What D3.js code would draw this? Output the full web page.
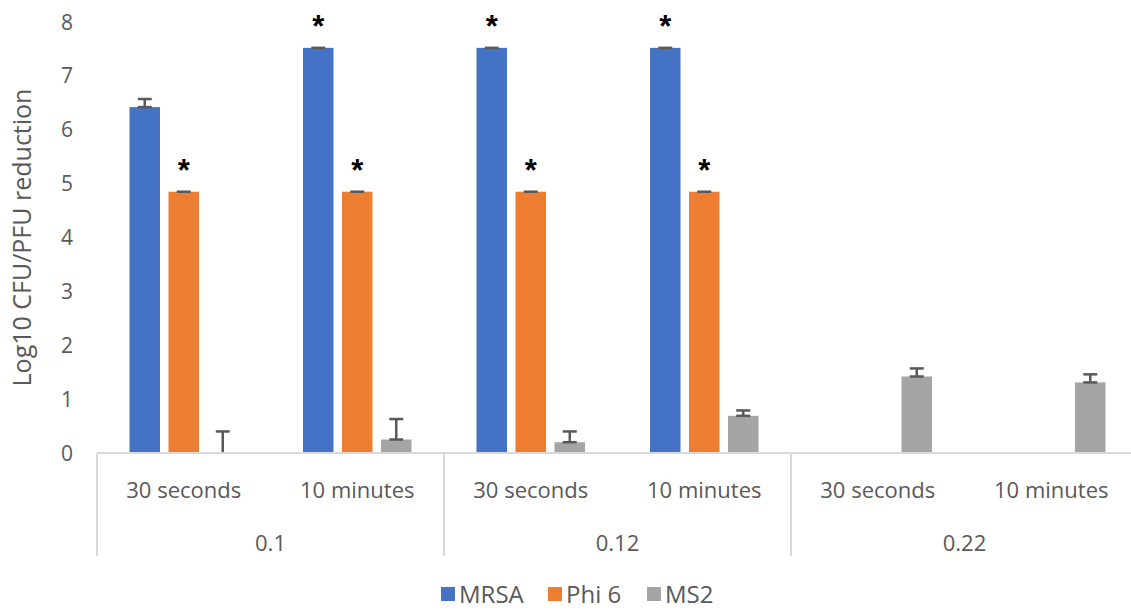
<!DOCTYPE html>
<html>
<head>
<meta charset="utf-8">
<script src="https://cdn.jsdelivr.net/npm/d3@7"></script>
<style>
  body { margin: 0; background: #fff; }
  text { font-family: "Open Sans", "Liberation Sans", sans-serif; fill: #595959; }
</style>
</head>
<body>
<div id="chart"></div>
<script>
// Concentration groups and exposure times
let groups = ["0.1", "0.12", "0.22"];
let times = ["30 seconds", "10 minutes"];
let seriesNames = ["MRSA", "Phi 6", "MS2"];
let seriesColors = ["#4472C4", "#ED7D31", "#A5A5A5"];
let yTicks = [0, 1, 2, 3, 4, 5, 6, 7, 8];

// Values per category (0.1/30s, 0.1/10m, 0.12/30s, 0.12/10m, 0.22/30s, 0.22/10m)
let mrsa = [6.42, 7.52, 7.52, 7.52, null, null];
let phi6 = [4.85, 4.85, 4.85, 4.85, null, null];
let ms2 = [0, 0.25, 0.2, 0.69, 1.42, 1.31];

// Upper error bars
let mrsaErr = [0.15, 0, 0, 0, null, null];
let phi6Err = [0, 0, 0, 0, null, null];
let ms2Err = [0.4, 0.38, 0.2, 0.1, 0.15, 0.15];

// Significance asterisks
let mrsaSig = [false, true, true, true, false, false];
let phi6Sig = [true, true, true, true, false, false];
let ms2Sig = [false, false, false, false, false, false];

let svgWidth = 1131;
let svgHeight = 610;

let margin = { top: 22, right: 0, bottom: 157, left: 97 };
let height = svgHeight - margin.top - margin.bottom;

let svg = d3.select("#chart")
    .append("svg")
    .attr("width", svgWidth)
    .attr("height", svgHeight);

// Build category list
let categories = [];
groups.forEach(g => times.forEach(t => categories.push(g + "|" + t)));

let values = [mrsa, phi6, ms2];
let errors = [mrsaErr, phi6Err, ms2Err];
let sigs = [mrsaSig, phi6Sig, ms2Sig];

let x0 = d3.scaleBand()
    .domain(categories)
    .range([margin.left, margin.left + 173.5 * categories.length]);

let x1 = d3.scaleBand()
    .domain(seriesNames)
    .range([0, x0.bandwidth()])
    .paddingInner(0.218)
    .paddingOuter(0.833);

let y = d3.scaleLinear()
    .domain([0, 8])
    .range([margin.top + height, margin.top]);

// Y tick labels
svg.append("g")
    .selectAll("text")
    .data(yTicks)
    .join("text")
    .attr("x", 73)
    .attr("y", d => y(d))
    .attr("dy", "0.36em")
    .attr("text-anchor", "end")
    .style("font-size", "21px")
    .text(d => d);

// Y axis title
svg.append("text")
    .attr("transform", `translate(31, ${y(4)}) rotate(-90)`)
    .attr("text-anchor", "middle")
    .style("font-size", "25px")
    .text("Log10 CFU/PFU reduction");

// Bars
let barGroup = svg.append("g");
seriesNames.forEach((s, si) => {
    let data = categories.map((c, i) => ({ c: c, v: values[si][i], e: errors[si][i], sig: sigs[si][i] }))
        .filter(d => d.v !== null);

    barGroup.selectAll(".bar" + si)
        .data(data)
        .join("rect")
        .attr("x", d => x0(d.c) + x1(s))
        .attr("y", d => y(d.v))
        .attr("width", x1.bandwidth())
        .attr("height", d => y(0) - y(d.v))
        .attr("fill", seriesColors[si]);

    // Error bars (plus direction)
    let eb = barGroup.selectAll(".err" + si)
        .data(data)
        .join("g")
        .attr("transform", d => `translate(${x0(d.c) + x1(s) + x1.bandwidth() / 2}, 0)`);
    eb.append("line")
        .attr("y1", d => y(d.v))
        .attr("y2", d => y(d.v + d.e))
        .attr("stroke", "#595959")
        .attr("stroke-width", 2.5);
    eb.append("line")
        .attr("x1", -7).attr("x2", 7)
        .attr("y1", d => y(d.v + d.e))
        .attr("y2", d => y(d.v + d.e))
        .attr("stroke", "#595959")
        .attr("stroke-width", 2.5);
    eb.filter(d => d.e > 0 && d.v > 0).append("line")
        .attr("x1", -7).attr("x2", 7)
        .attr("y1", d => y(d.v))
        .attr("y2", d => y(d.v))
        .attr("stroke", "#595959")
        .attr("stroke-width", 2.5);

    // Asterisks
    barGroup.selectAll(".sig" + si)
        .data(data.filter(d => d.sig))
        .join("text")
        .attr("x", d => x0(d.c) + x1(s) + x1.bandwidth() / 2)
        .attr("y", d => y(d.v + d.e) - 11)
        .attr("text-anchor", "middle")
        .style("font-family", "'Liberation Sans', sans-serif")
        .style("font-weight", "bold")
        .style("font-size", "31px")
        .style("fill", "#000")
        .text("*");
});

// Category axis
let axisY = y(0);
svg.append("line")
    .attr("x1", margin.left).attr("x2", svgWidth)
    .attr("y1", axisY).attr("y2", axisY)
    .attr("stroke", "#D9D9D9")
    .attr("stroke-width", 2);

svg.append("g")
    .selectAll("text")
    .data(categories)
    .join("text")
    .attr("x", d => x0(d) + x0.bandwidth() / 2)
    .attr("y", 498)
    .attr("text-anchor", "middle")
    .style("font-size", "22px")
    .text(d => d.split("|")[1]);

// Group separators and labels
let groupStart = g => x0(g + "|" + times[0]);
let groupWidth = x0.bandwidth() * times.length;

svg.append("g")
    .selectAll("line")
    .data(groups.concat(["end"]))
    .join("line")
    .attr("x1", (d, i) => margin.left + i * groupWidth)
    .attr("x2", (d, i) => margin.left + i * groupWidth)
    .attr("y1", axisY)
    .attr("y2", 556)
    .attr("stroke", "#D9D9D9")
    .attr("stroke-width", 2);

svg.append("g")
    .selectAll("text")
    .data(groups)
    .join("text")
    .attr("x", d => groupStart(d) + groupWidth / 2)
    .attr("y", 551)
    .attr("text-anchor", "middle")
    .style("font-size", "22px")
    .text(d => d);

// Legend
let legendX = [441, 548, 647];
let legend = svg.append("g")
    .selectAll("g")
    .data(seriesNames)
    .join("g")
    .attr("transform", (d, i) => `translate(${legendX[i]}, 594)`);
legend.append("rect")
    .attr("x", 0).attr("y", -7)
    .attr("width", 14).attr("height", 14)
    .attr("fill", (d, i) => seriesColors[i]);
legend.append("text")
    .attr("x", 18)
    .attr("dy", "0.36em")
    .style("font-size", "24px")
    .text(d => d);
</script>
</body>
</html>
